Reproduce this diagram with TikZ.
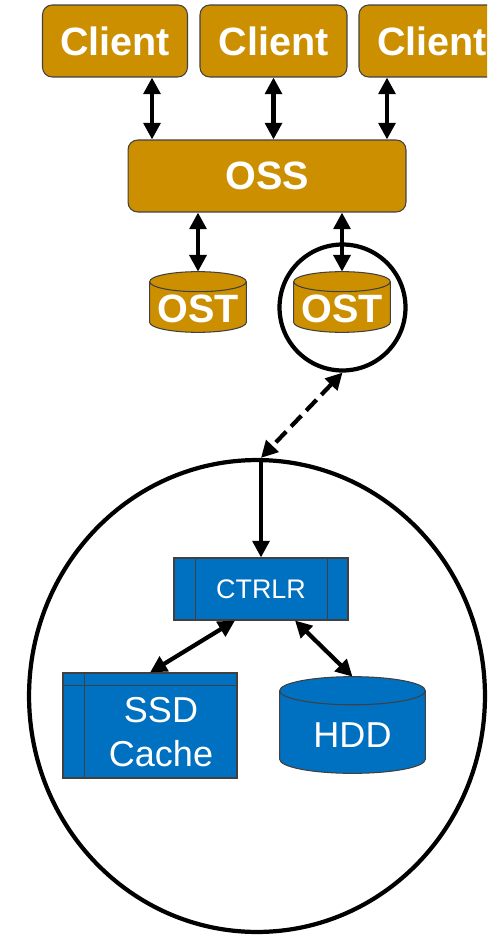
\documentclass[tikz,border=0pt]{standalone}
\usepackage{fontspec}
\setmainfont{Liberation Sans}
\usetikzlibrary{positioning}
\usetikzlibrary{shapes.geometric}
\usetikzlibrary{calc}
\usetikzlibrary{backgrounds}
\usetikzlibrary{arrows.meta}
\definecolor{gold}{HTML}{CC8F00}
\definecolor{steel}{HTML}{0070C0}

% drum outline around a node: node, cap radius, fill colour
\newcommand{\drum}[3]{%
  \draw[divider, fill=#3] let \p1=(#1.north west), \p2=(#1.south east), \n1={(\x2-\x1)/2} in
    (\x1,\y1-#2) -- (\x1,\y2+#2) arc[start angle=180, end angle=360, x radius=\n1, y radius=#2]
    -- (\x2,\y1-#2) arc[start angle=0, end angle=180, x radius=\n1, y radius=#2] -- cycle
    (\x1,\y1-#2) arc[start angle=180, end angle=360, x radius=\n1, y radius=#2];
}

\begin{document}
\begin{tikzpicture}[x=0.02cm, y=-0.02cm,
    server/.style={draw=black!75, line width=0.6pt, fill=gold, rounded corners=5.5pt, text=white, font=\fontsize{22.5}{27}\selectfont\bfseries, inner sep=0pt},
    target/.style={text=white, font=\fontsize{22.5}{27}\selectfont\bfseries, inner sep=0pt, minimum width=1.92cm, minimum height=1.2cm, text height=0.81cm, text depth=0pt},
    part/.style={draw=black!75, line width=0.6pt, fill=steel, text=white, inner sep=0pt},
    divider/.style={black!75, line width=0.6pt},
    link/.style={line width=2.4pt, {Triangle[length=9.5pt,width=9.5pt]}-{Triangle[length=9.5pt,width=9.5pt]}},
    ring/.style={draw, line width=2.4pt}]

                % Frame
                \clip (0,0) rectangle (487,935);

                % Nodes
                \node at (115,41) (client1) [server, minimum width=2.9cm, minimum height=1.44cm] {Client};
                \node at (273.5,41) (client2) [server, minimum width=2.94cm, minimum height=1.44cm] {Client};
                \node at (432,41) (client3) [server, minimum width=2.92cm, minimum height=1.44cm] {Client};
                \node at (267,176) (oss) [server, minimum width=5.56cm, minimum height=1.44cm] {OSS};
                \node at (198,302) (ost1) [target] {OST};
                \node at (342,302) (ost2) [target] {OST};
                \node at (342.5,307.5) (zoom) [ring, circle, minimum size=2.52cm] {};
                \node at (257,696) (unit) [ring, ellipse, minimum width=9.12cm, minimum height=9.44cm] {};
                \node at (261,589) (ctrlr) [part, minimum width=3.48cm, minimum height=1.24cm, font=\fontsize{15.3}{18}\selectfont] {CTRLR};
                \node at (150,725.5) (ssd) [part, minimum width=3.48cm, minimum height=2.1cm] {};
                \node at (161,732) (ssdtext) [text=white, align=center, font=\fontsize{20.5}{25}\selectfont] {SSD\\Cache};
                \node at (352.5,725) (hdd) [text=white, inner sep=0pt, minimum width=2.9cm, minimum height=1.92cm, text height=0.9cm, text depth=0pt, font=\fontsize{20.5}{25}\selectfont] {HDD};

                % Drums
                \begin{pgfonlayer}{background}
                \drum{ost1}{5.7pt}{gold}
                \drum{ost2}{5.7pt}{gold}
                \drum{hdd}{8pt}{steel}
                \end{pgfonlayer}

                % Inner lines
                \draw[divider] ([xshift=0.44cm]ctrlr.north west) -- ([xshift=0.44cm]ctrlr.south west);
                \draw[divider] ([xshift=-0.42cm]ctrlr.north east) -- ([xshift=-0.42cm]ctrlr.south east);
                \draw[divider] ([xshift=0.44cm]ssd.north west) -- ([xshift=0.44cm]ssd.south west);
                \draw[divider] ([yshift=-0.26cm]ssd.north west) -- ([yshift=-0.26cm]ssd.north east);

                % Arrows
                \draw[link] (client1.south -| 152,0) -- (oss.north -| 152,0);
                \draw[link] (client2.south) -- (oss.north -| client2.south);
                \draw[link] (client3.south -| 387,0) -- (oss.north -| 387,0);
                \draw[link] (oss.south -| ost1.north) -- (ost1.north);
                \draw[link] (oss.south -| ost2.north) -- (ost2.north);
                \draw[link, dash pattern=on 8.5pt off 4pt] (zoom.south) -- (ctrlr.north |- unit.north);
                \draw[line width=2.4pt, -{Triangle[length=9.5pt,width=9.5pt]}] (ctrlr.north |- unit.north) -- (ctrlr.north);
                \draw[link] (ctrlr.south -| 235,0) -- (ssd.north);
                \draw[link] (ctrlr.south -| 295,0) -- (hdd.north);

            \end{tikzpicture}
\end{document}
